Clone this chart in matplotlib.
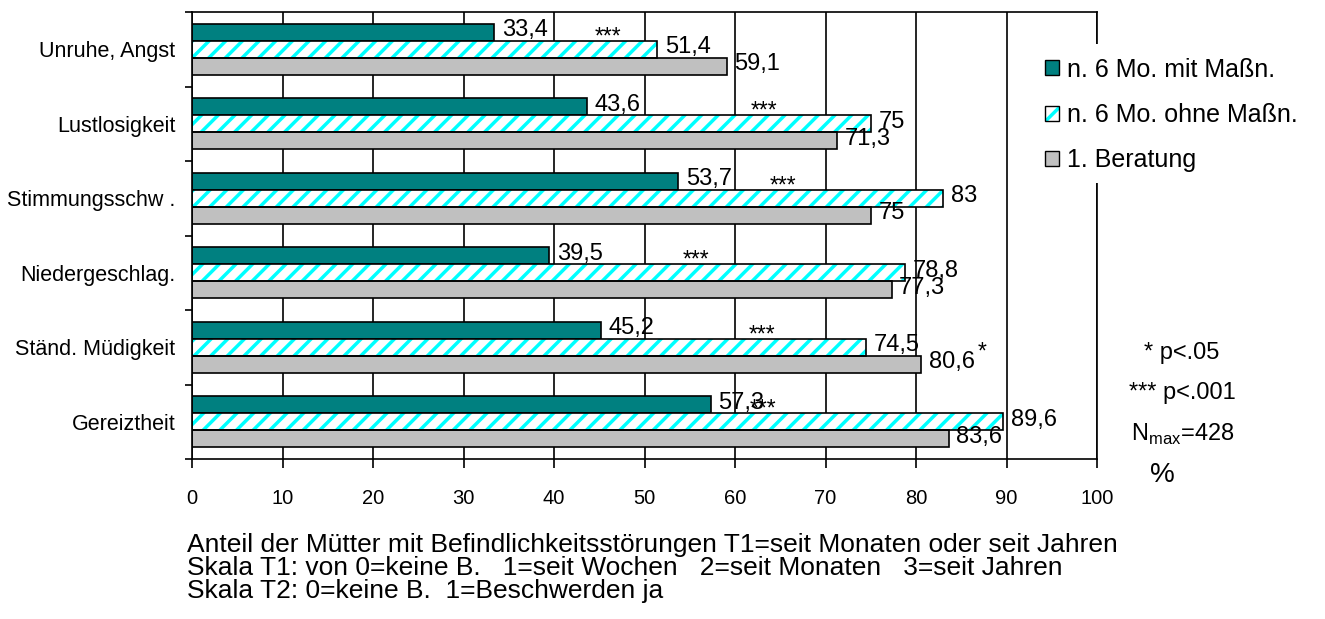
import matplotlib
matplotlib.use("Agg")
import matplotlib.pyplot as plt
from matplotlib.patches import Patch, Rectangle
import numpy as np

plt.rcParams['font.family'] = ['Liberation Sans', 'DejaVu Sans']
plt.rcParams['hatch.linewidth'] = 2.5

categories = ['Unruhe, Angst', 'Lustlosigkeit', 'Stimmungsschw .',
              'Niedergeschlag.', 'Ständ. Müdigkeit', 'Gereiztheit']
mit_massn = [33.4, 43.6, 53.7, 39.5, 45.2, 57.3]
ohne_massn = [51.4, 75, 83, 78.8, 74.5, 89.6]
beratung = [59.1, 71.3, 75, 77.3, 80.6, 83.6]
series_names = ['n. 6 Mo. mit Maßn.', 'n. 6 Mo. ohne Maßn.', '1. Beratung']

# where the significance stars sit (x in %, one per category)
star_x = [46.0, 63.2, 65.3, 55.7, 63.0, 63.1]

TEAL = '#008080'
CYAN = '#00FFFF'
GRAY = '#C0C0C0'

W, H = 1325, 619
fig = plt.figure(figsize=(W / 100, H / 100), dpi=100)
ax = fig.add_axes([192 / W, 1 - 459 / H, (1097 - 192) / W, (459 - 12) / H])

y = np.arange(len(categories))
h = 0.228

ax.barh(y - h, mit_massn, height=h, color=TEAL, edgecolor='black', lw=1.2, zorder=2)
ax.barh(y, ohne_massn, height=h, color='white', edgecolor=CYAN, hatch='//', lw=0, zorder=2)
ax.barh(y, ohne_massn, height=h, fill=False, edgecolor='black', lw=1.2, zorder=2.1)
ax.barh(y + h, beratung, height=h, color=GRAY, edgecolor='black', lw=1.2, zorder=2)

def fmt(v):
    return f"{v:g}".replace('.', ',')

for vals, off in [(mit_massn, -h), (ohne_massn, 0), (beratung, h)]:
    for i, v in enumerate(vals):
        ax.annotate(fmt(v), (v, i + off), xytext=(5.5, 1.5), textcoords='offset points',
                    ha='left', va='center', fontsize=17, zorder=4)

for i, sx in enumerate(star_x):
    ax.annotate('***', (sx, i - h), xytext=(0, -8), textcoords='offset points',
                ha='center', va='baseline', fontsize=16.5, zorder=4)
ax.annotate('*', (87.3, 4), xytext=(0, -8), textcoords='offset points',
            ha='center', va='baseline', fontsize=16.5, zorder=4)

ax.set_xlim(0, 100)
ax.set_ylim(len(categories) - 0.5, -0.5)
ax.set_xticks(range(0, 101, 10))
ax.xaxis.grid(True, color='black', lw=1.2)
ax.set_axisbelow(True)

ax.set_yticks(np.arange(-0.5, len(categories), 1))
ax.set_yticklabels([])
ax.set_yticks(y, minor=True)
ax.set_yticklabels(categories, minor=True)
ax.tick_params(axis='y', which='major', direction='out', length=5, width=1.2)
ax.tick_params(axis='y', which='minor', length=0, pad=12, labelsize=15.5)
ax.tick_params(axis='x', direction='out', length=6.5, width=1.2, pad=15, labelsize=14.5)
for sp in ax.spines.values():
    sp.set_linewidth(1.2)
    sp.set_color('black')

# white box behind the legend hides the grid lines
fig.patches.append(Rectangle((1010 / W, 1 - 183 / H), 315 / W, 139 / H,
                             transform=fig.transFigure, facecolor='white',
                             edgecolor='none', zorder=1))

handles = [Patch(facecolor=TEAL, edgecolor='black'),
           (Patch(facecolor='white', edgecolor=CYAN, hatch='//', lw=0),
            Patch(facecolor='none', edgecolor='black')),
           Patch(facecolor=GRAY, edgecolor='black')]
fig.legend(handles, series_names, loc='center left', bbox_to_anchor=(1045 / W, 1 - 115 / H),
           frameon=False, borderpad=0, borderaxespad=0, handlelength=0.55, handleheight=0.55,
           handletextpad=0.33, labelspacing=0.85, fontsize=18)

fig.text(1182 / W, 1 - 353 / H, '* p<.05', ha='center', va='center', fontsize=17)
fig.text(1182 / W, 1 - 393 / H, '*** p<.001', ha='center', va='center', fontsize=17)
fig.text(1183 / W, 1 - 434 / H, r'N$_{\mathregular{max}}$=428', ha='center', va='center', fontsize=17)
fig.text(1162 / W, 1 - 475 / H, '%', ha='center', va='center', fontsize=20)

fig.text(187 / W, 1 - 533 / H,
         'Anteil der Mütter mit Befindlichkeitsstörungen T1=seit Monaten oder seit Jahren\n'
         'Skala T1: von 0=keine B.   1=seit Wochen   2=seit Monaten   3=seit Jahren\n'
         'Skala T2: 0=keine B.  1=Beschwerden ja',
         ha='left', va='top', fontsize=19, linespacing=0.95)

fig.savefig('out.png', dpi=100)
plt.close(fig)
